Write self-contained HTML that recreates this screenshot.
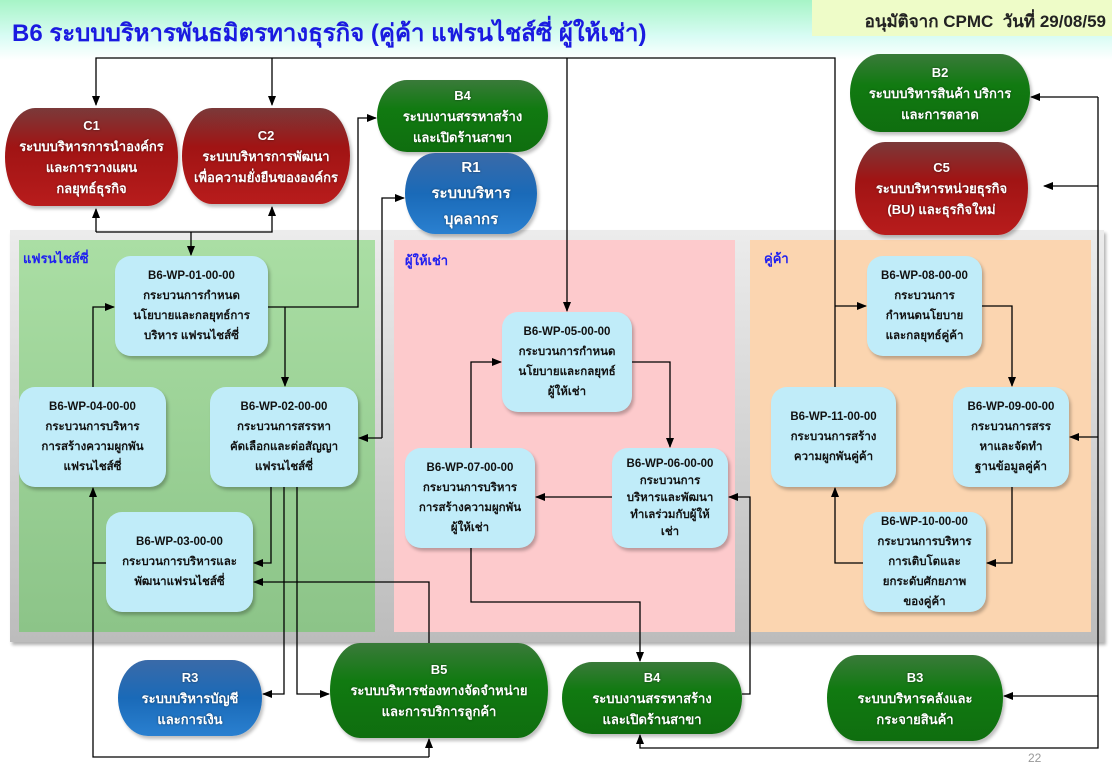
<!DOCTYPE html>
<html><head><meta charset="utf-8">
<style>
*{margin:0;padding:0;box-sizing:border-box}
body{width:1112px;height:768px;position:relative;overflow:hidden;background:#fff;font-family:"Liberation Sans","Noto Sans CJK SC",sans-serif}
.hdr{position:absolute;left:0;top:0;width:1112px;height:60px;background:linear-gradient(#a6f4c6,#d8fcf4 60%,#fff)}
.title{position:absolute;left:12px;top:13px;font-size:24px;font-weight:bold;color:#1a1ae0;white-space:nowrap}
.appr{position:absolute;left:812px;top:0;width:300px;height:36px;background:#eefcc8;font-size:17px;font-weight:bold;color:#222;text-align:right;padding:8px 6px 0 0;white-space:nowrap}
.abs{position:absolute}
.cap{position:absolute;border-radius:30px/50%;color:#fff;font-weight:bold;font-size:13px;text-align:center;display:flex;flex-direction:column;justify-content:center;line-height:21px;text-shadow:0 0 2px rgba(0,0,0,.5);box-shadow:2px 3px 3px rgba(0,0,0,.25)}
.red{background:linear-gradient(#7a3a3a,#a01414 40%,#b81c1c)}
.grn{background:linear-gradient(#3a7a3a,#117a11 40%,#0f6e0f)}
.blu{background:linear-gradient(#3a6aa8,#1a6ab8 50%,#2a80d0)}
.box{position:absolute;background:#c0ecf9;border-radius:16px;font-size:11.5px;font-weight:bold;color:#111;text-align:center;display:flex;flex-direction:column;justify-content:center;line-height:20px;box-shadow:2px 3px 3px rgba(0,0,0,.25)}
.lbl{position:absolute;font-size:13px;font-weight:bold;color:#2020f0}
</style></head><body>
<div class="hdr"></div>
<div class="title">B6 ระบบบริหารพันธมิตรทางธุรกิจ (คู่ค้า แฟรนไชส์ซี่ ผู้ให้เช่า)</div>
<div class="appr">อนุมัติจาก CPMC&nbsp; วันที่ 29/08/59</div>

<div class="abs" style="left:10px;top:230px;width:1094px;height:412px;background:linear-gradient(#ececec,#bcbcbc);box-shadow:2px 3px 3px rgba(0,0,0,.3)"></div>
<div class="abs" style="left:19px;top:240px;width:356px;height:392px;background:linear-gradient(#aadea4,#8cc488)"></div>
<div class="abs" style="left:394px;top:240px;width:341px;height:392px;background:#fdcacc"></div>
<div class="abs" style="left:750px;top:240px;width:341px;height:392px;background:#fbd5b0"></div>
<div class="lbl" style="left:23px;top:248px">แฟรนไชส์ซี่</div>
<div class="lbl" style="left:405px;top:250px">ผู้ให้เช่า</div>
<div class="lbl" style="left:764px;top:248px">คู่ค้า</div>

<div class="cap red" style="left:5px;top:108px;width:173px;height:98px">C1<br>ระบบบริหารการนำองค์กร<br>และการวางแผน<br>กลยุทธ์ธุรกิจ</div>
<div class="cap red" style="left:182px;top:108px;width:168px;height:96px">C2<br>ระบบบริหารการพัฒนา<br>เพื่อความยั่งยืนขององค์กร</div>
<div class="cap grn" style="left:377px;top:80px;width:171px;height:72px">B4<br>ระบบงานสรรหาสร้าง<br>และเปิดร้านสาขา</div>
<div class="cap blu" style="left:405px;top:153px;width:132px;height:81px;font-size:15px;line-height:26px">R1<br>ระบบบริหาร<br>บุคลากร</div>
<div class="cap grn" style="left:850px;top:54px;width:180px;height:78px">B2<br>ระบบบริหารสินค้า บริการ<br>และการตลาด</div>
<div class="cap red" style="left:855px;top:142px;width:173px;height:93px">C5<br>ระบบบริหารหน่วยธุรกิจ<br>(BU) และธุรกิจใหม่</div>
<div class="cap blu" style="left:118px;top:660px;width:144px;height:76px">R3<br>ระบบบริหารบัญชี<br>และการเงิน</div>
<div class="cap grn" style="left:330px;top:643px;width:218px;height:95px">B5<br>ระบบบริหารช่องทางจัดจำหน่าย<br>และการบริการลูกค้า</div>
<div class="cap grn" style="left:562px;top:662px;width:180px;height:72px">B4<br>ระบบงานสรรหาสร้าง<br>และเปิดร้านสาขา</div>
<div class="cap grn" style="left:827px;top:655px;width:176px;height:86px">B3<br>ระบบบริหารคลังและ<br>กระจายสินค้า</div>

<div class="box" style="left:115px;top:256px;width:153px;height:100px">B6-WP-01-00-00<br>กระบวนการกำหนด<br>นโยบายและกลยุทธ์การ<br>บริหาร แฟรนไชส์ซี่</div>
<div class="box" style="left:19px;top:387px;width:147px;height:100px">B6-WP-04-00-00<br>กระบวนการบริหาร<br>การสร้างความผูกพัน<br>แฟรนไชส์ซี่</div>
<div class="box" style="left:210px;top:387px;width:148px;height:100px">B6-WP-02-00-00<br>กระบวนการสรรหา<br>คัดเลือกและต่อสัญญา<br>แฟรนไชส์ซี่</div>
<div class="box" style="left:106px;top:512px;width:147px;height:100px">B6-WP-03-00-00<br>กระบวนการบริหารและ<br>พัฒนาแฟรนไชส์ซี่</div>
<div class="box" style="left:502px;top:312px;width:130px;height:100px">B6-WP-05-00-00<br>กระบวนการกำหนด<br>นโยบายและกลยุทธ์<br>ผู้ให้เช่า</div>
<div class="box" style="left:405px;top:448px;width:130px;height:100px">B6-WP-07-00-00<br>กระบวนการบริหาร<br>การสร้างความผูกพัน<br>ผู้ให้เช่า</div>
<div class="box" style="left:612px;top:448px;width:116px;height:100px;line-height:17px">B6-WP-06-00-00<br>กระบวนการ<br>บริหารและพัฒนา<br>ทำเลร่วมกับผู้ให้<br>เช่า</div>
<div class="box" style="left:867px;top:256px;width:115px;height:100px">B6-WP-08-00-00<br>กระบวนการ<br>กำหนดนโยบาย<br>และกลยุทธ์คู่ค้า</div>
<div class="box" style="left:771px;top:387px;width:125px;height:100px">B6-WP-11-00-00<br>กระบวนการสร้าง<br>ความผูกพันคู่ค้า</div>
<div class="box" style="left:953px;top:387px;width:116px;height:100px">B6-WP-09-00-00<br>กระบวนการสรร<br>หาและจัดทำ<br>ฐานข้อมูลคู่ค้า</div>
<div class="box" style="left:863px;top:512px;width:123px;height:100px">B6-WP-10-00-00<br>กระบวนการบริหาร<br>การเติบโตและ<br>ยกระดับศักยภาพ<br>ของคู่ค้า</div>

<svg class="abs" style="left:0;top:0" width="1112" height="768" viewBox="0 0 1112 768">
<defs><marker id="a" markerWidth="10" markerHeight="10" refX="9" refY="5" orient="auto" markerUnits="userSpaceOnUse"><path d="M0,1 L10,5 L0,9z" fill="#000"/></marker></defs>
<g fill="none" stroke="#000" stroke-width="1.3">
<path d="M835,387 V58 H96 V105" marker-end="url(#a)"/>
<path d="M272,58 V105" marker-end="url(#a)"/>
<path d="M567,58 V311" marker-end="url(#a)"/>
<path d="M835,306 H866" marker-end="url(#a)"/>
<path d="M96,232 V209" marker-end="url(#a)"/>
<path d="M96,232 H272 V207" marker-end="url(#a)"/>
<path d="M191,232 V255" marker-end="url(#a)"/>
<path d="M268,307 H358 V118 H376" marker-end="url(#a)"/>
<path d="M285,307 V386" marker-end="url(#a)"/>
<path d="M382,438 V198 H404" marker-end="url(#a)"/>
<path d="M382,438 H359" marker-end="url(#a)"/>
<path d="M93,387 V307 H114" marker-end="url(#a)"/>
<path d="M271,487 V563 H254" marker-end="url(#a)"/>
<path d="M284,487 V694 H263" marker-end="url(#a)"/>
<path d="M297,487 V694 H329" marker-end="url(#a)"/>
<path d="M106,563 H93"/>
<path d="M429,757 H93 V488" marker-end="url(#a)"/>
<path d="M429,757 V739" marker-end="url(#a)"/>
<path d="M429,643 V582 H254" marker-end="url(#a)"/>
<path d="M632,362 H670 V447" marker-end="url(#a)"/>
<path d="M612,497 H536" marker-end="url(#a)"/>
<path d="M471,448 V362 H501" marker-end="url(#a)"/>
<path d="M471,548 V602 H640 V661" marker-end="url(#a)"/>
<path d="M742,694 H750 V497 H729" marker-end="url(#a)"/>
<path d="M1098,97 H1031" marker-end="url(#a)"/>
<path d="M1098,97 V748 H640 V735" marker-end="url(#a)"/>
<path d="M1098,186 H1044" marker-end="url(#a)"/>
<path d="M1098,437 H1070" marker-end="url(#a)"/>
<path d="M1098,696 H1004" marker-end="url(#a)"/>
<path d="M982,306 H1012 V386" marker-end="url(#a)"/>
<path d="M1012,487 V563 H987" marker-end="url(#a)"/>
<path d="M863,563 H835 V488" marker-end="url(#a)"/>
</g>
<text x="1028" y="762" font-size="12" fill="#999" font-family="Liberation Sans, sans-serif">22</text>
</svg>
</body></html>
